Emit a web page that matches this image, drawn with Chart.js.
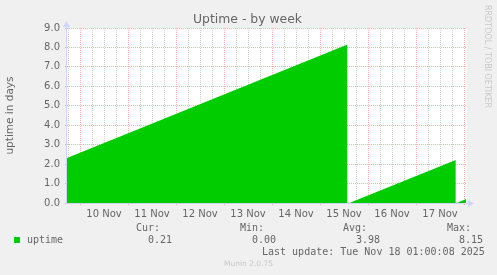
<!DOCTYPE html>
<html>
<head>
<meta charset="utf-8">
<script src="https://cdn.jsdelivr.net/npm/chart.js@4/dist/chart.umd.min.js"></script>
<style>
  body { margin: 0; background: #F0F0F0; }
  #wrap { position: relative; width: 497px; height: 275px; overflow: hidden; }
  #chart { position: absolute; left: 0; top: 0; }
  .t { position: absolute; white-space: pre; color: #666; }
  .mono { font-family: 'DejaVu Sans Mono', monospace; font-size: 10px; line-height: 12px; }
  #title { left: 0; width: 495px; top: 11px; text-align: center; font: 12.4px/15px 'DejaVu Sans', sans-serif; }
  #credit { left: 483px; top: 5px; font: 8px/8px 'DejaVu Sans', sans-serif; color: #c8c8c8; writing-mode: vertical-rl; }
  #munin { left: 0; width: 497px; top: 259px; text-align: center; font: 7.5px/9px 'DejaVu Sans', sans-serif; color: #c8c8c8; }
  #swatch { position: absolute; left: 14px; top: 237px; width: 6px; height: 6px; background: #00CC00; }
</style>
</head>
<body>
<div id="wrap">
  <canvas id="chart" width="497" height="275"></canvas>
  <div class="t" id="title">Uptime - by week</div>
  <div class="t" id="credit">RRDTOOL / TOBI OETIKER</div>
  <div id="swatch"></div>
  <div class="t mono" style="left:27px;top:234px">uptime</div>
  <div class="t mono" style="left:136px;top:222px">Cur:</div>
  <div class="t mono" style="left:240px;top:222px">Min:</div>
  <div class="t mono" style="left:343px;top:222px">Avg:</div>
  <div class="t mono" style="left:447px;top:222px">Max:</div>
  <div class="t mono" style="left:148px;top:234px">0.21</div>
  <div class="t mono" style="left:252px;top:234px">0.00</div>
  <div class="t mono" style="left:356px;top:234px">3.98</div>
  <div class="t mono" style="left:459px;top:234px">8.15</div>
  <div class="t mono" style="left:262px;top:246px">Last update: Tue Nov 18 01:00:08 2025</div>
  <div class="t" id="munin">Munin 2.0.75</div>
</div>
<script>
// === DATA ===
// hours since 10 Nov 00:00, uptime in days (null = no data)
const sampleHours = [-6.5, 133.75, 134.5, 135.25, 187.9, 188.5, 189.0, 193.0];
const uptimeDays  = [2.32, 8.15,   null,  0.02,   2.21,  null,  0.03,  0.20];
const dayLabels   = ['10 Nov', '11 Nov', '12 Nov', '13 Nov', '14 Nov', '15 Nov', '16 Nov', '17 Nov'];

const COLORS = {
    area:   '#00CC00',
    major:  'rgba(255,60,60,0.4)',
    minor:  'rgba(140,140,140,0.4)',
    axis:   '#CFD6F8',
    text:   '#666666',
    canvas: '#FFFFFF',
};

const points = sampleHours.map((h, i) => ({ x: h, y: uptimeDays[i] }));

// white plot canvas + light blue axes with arrows (rrdtool look)
const muninFrame = {
    id: 'muninFrame',
    beforeDraw(chart) {
        const { ctx, chartArea: a } = chart;
        ctx.save();
        ctx.fillStyle = COLORS.canvas;
        ctx.fillRect(a.left, a.top, a.right - a.left, a.bottom - a.top);
        ctx.restore();
    },
    afterDatasetsDraw(chart) {
        const { ctx, chartArea: a } = chart;
        ctx.save();
        ctx.setLineDash([]);
        ctx.strokeStyle = COLORS.axis;
        ctx.fillStyle   = COLORS.axis;
        ctx.lineWidth   = 1;
        ctx.beginPath();
        ctx.moveTo(a.left - 0.5, a.bottom + 0.5);
        ctx.lineTo(a.right + 2, a.bottom + 0.5);
        ctx.moveTo(a.left - 0.5, a.bottom + 0.5);
        ctx.lineTo(a.left - 0.5, a.top - 2);
        ctx.stroke();
        ctx.beginPath();
        ctx.moveTo(a.right + 7, a.bottom + 0.5);
        ctx.lineTo(a.right + 1, a.bottom - 3);
        ctx.lineTo(a.right + 1, a.bottom + 4);
        ctx.closePath();
        ctx.fill();
        ctx.beginPath();
        ctx.moveTo(a.left - 0.5, a.top - 7);
        ctx.lineTo(a.left - 4, a.top - 1);
        ctx.lineTo(a.left + 3, a.top - 1);
        ctx.closePath();
        ctx.fill();
        ctx.restore();
    },
};

const isMajorX = v => v % 24 === 0;
const isMajorY = v => Number.isInteger(v);

new Chart(document.getElementById('chart').getContext('2d'), {
    type: 'line',
    data: {
        datasets: [{
            label:           'uptime',
            data:            points,
            backgroundColor: COLORS.area,
            borderColor:     COLORS.area,
            borderWidth:     0,
            pointRadius:     0,
            fill:            'origin',
            spanGaps:        false,
            tension:         0,
        }],
    },
    options: {
        responsive: false,
        animation: false,
        events: [],
        layout: { padding: { top: 28, right: 30, left: 0, bottom: 0 } },
        plugins: { legend: { display: false }, tooltip: { enabled: false } },
        scales: {
            x: {
                type: 'linear',
                min: -6.5,
                max: 193.5,
                afterFit: scale => { scale.height = 72; },
                afterBuildTicks: scale => {
                    const ticks = [];
                    for (let h = -6; h <= 192; h += 6) ticks.push({ value: h });
                    scale.ticks = ticks;
                },
                border: { display: false, dash: [1, 1] },
                grid: {
                    color:      ctx => isMajorX(ctx.tick.value) ? COLORS.major : COLORS.minor,
                    tickColor:  ctx => isMajorX(ctx.tick.value) ? COLORS.major : 'rgba(0,0,0,0)',
                    tickLength: 2,
                },
                ticks: {
                    autoSkip:    false,
                    maxRotation: 0,
                    padding:     3,
                    color:       COLORS.text,
                    font:        { family: 'DejaVu Sans', size: 10 },
                    callback:    value => ((value - 12) % 24 === 0 ? dayLabels[(value - 12) / 24] : ''),
                },
            },
            y: {
                min: 0,
                max: 9,
                afterFit: scale => { scale.width = 67; },
                border: { display: false, dash: [1, 1] },
                grid: {
                    color:      ctx => isMajorY(ctx.tick.value) ? COLORS.major : COLORS.minor,
                    tickColor:  ctx => isMajorY(ctx.tick.value) ? COLORS.major : 'rgba(0,0,0,0)',
                    tickLength: 2,
                },
                ticks: {
                    stepSize: 0.5,
                    padding:  5,
                    color:    COLORS.text,
                    font:     { family: 'DejaVu Sans', size: 10 },
                    callback: value => (isMajorY(value) ? value.toFixed(1) : ''),
                },
                title: {
                    display: true,
                    text:    'uptime in days',
                    color:   COLORS.text,
                    font:    { family: 'DejaVu Sans', size: 10.5 },
                    padding: { top: 4, bottom: 0 },
                },
            },
        },
    },
    plugins: [muninFrame],
});
</script>
</body>
</html>
